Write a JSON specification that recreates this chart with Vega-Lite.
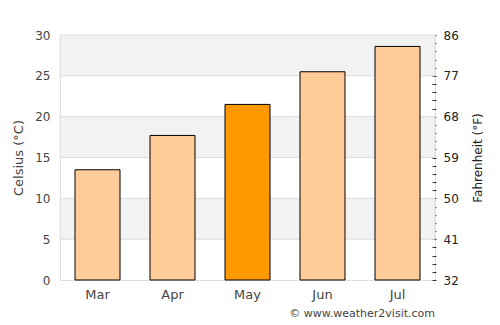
{
  "$schema": "https://vega.github.io/schema/vega-lite/v6.json",
  "width": 375,
  "height": 245,
  "autosize": {"type": "none"},
  "padding": {"left": 60, "top": 35, "right": 65, "bottom": 45},
  "background": "#ffffff",
  "config": {
    "font": "DejaVu Sans",
    "view": {"stroke": "#dddddd", "strokeWidth": 1}
  },
  "title": {
    "text": "© www.weather2visit.com",
    "orient": "bottom",
    "anchor": "end",
    "frame": "group",
    "fontSize": 11,
    "fontWeight": "normal",
    "color": "#444444",
    "font": "DejaVu Sans",
    "offset": 7
  },
  "datasets": {
    "temps": [
      {"month": "Mar", "celsius": 13.5},
      {"month": "Apr", "celsius": 17.7},
      {"month": "May", "celsius": 21.5},
      {"month": "Jun", "celsius": 25.5},
      {"month": "Jul", "celsius": 28.6}
    ],
    "bands": [
      {"low": 25, "high": 30},
      {"low": 15, "high": 20},
      {"low": 5, "high": 10}
    ]
  },
  "layer": [
    {
      "layer": [
        {
          "data": {"name": "bands"},
          "mark": {"type": "rect", "fill": "#f2f2f2", "stroke": "#dddddd", "strokeWidth": 1},
          "encoding": {
            "y": {
              "field": "low",
              "type": "quantitative",
              "scale": {"domain": [0, 30], "nice": false, "zero": true},
              "axis": {
                "title": "Celsius (°C)",
                "values": [0, 5, 10, 15, 20, 25, 30],
                "grid": false,
                "domain": false,
                "ticks": false,
                "labelPadding": 10,
                "labelFontSize": 12,
                "labelColor": "#444444",
                "titleFontSize": 13,
                "titleFontWeight": "normal",
                "titleColor": "#444444",
                "titlePadding": 9
              }
            },
            "y2": {"field": "high"}
          }
        },
        {
          "data": {"name": "temps"},
          "mark": {"type": "bar", "stroke": "#000000", "strokeWidth": 1},
          "encoding": {
            "x": {
              "field": "month",
              "type": "nominal",
              "sort": null,
              "scale": {"paddingInner": 0.4, "paddingOuter": 0.2},
              "axis": {
                "title": null,
                "labelAngle": 0,
                "domain": false,
                "ticks": false,
                "labelPadding": 8,
                "labelFontSize": 13,
                "labelColor": "#444444"
              }
            },
            "y": {
              "field": "celsius",
              "type": "quantitative",
              "scale": {"domain": [0, 30], "nice": false, "zero": true}
            },
            "color": {
              "condition": {"test": "datum.month === 'May'", "value": "#ff9900"},
              "value": "#ffcc99"
            }
          }
        }
      ]
    },
    {
      "data": {"values": [{}]},
      "mark": {"type": "rule", "opacity": 0},
      "encoding": {
        "y": {
          "datum": 32,
          "type": "quantitative",
          "scale": {"domain": [32, 86], "nice": false, "zero": false},
          "axis": {
            "orient": "right",
            "title": "Fahrenheit (°F)",
            "titleAngle": -90,
            "values": [32, 33.8, 35.6, 37.4, 39.2, 41, 42.8, 44.6, 46.4, 48.2, 50, 51.8, 53.6, 55.4, 57.2, 59, 60.8, 62.6, 64.4, 66.2, 68, 69.8, 71.6, 73.4, 75.2, 77, 78.8, 80.6, 82.4, 84.2, 86],
            "labelExpr": "indexof([32,41,50,59,68,77,86], datum.value) >= 0 ? datum.label : ''",
            "labelOverlap": false,
            "grid": false,
            "domain": false,
            "offset": -3,
            "tickSize": 4,
            "tickColor": "#333333",
            "labelPadding": 7,
            "labelFontSize": 12,
            "labelColor": "#222222",
            "titleFontSize": 12,
            "titleFontWeight": "normal",
            "titleColor": "#222222",
            "titlePadding": 26
          }
        }
      }
    }
  ],
  "resolve": {"scale": {"y": "independent"}, "axis": {"y": "independent"}}
}
